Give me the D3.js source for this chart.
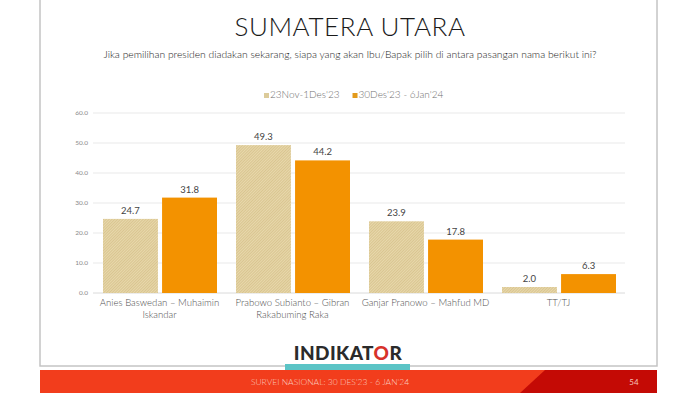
<!doctype html>
<html>
<head>
<meta charset="utf-8">
<script src="https://cdn.jsdelivr.net/npm/d3@7/dist/d3.min.js"></script>
<style>
  body { margin: 0; background: #fff; }
  svg { display: block; font-family: "Lato", "Open Sans", sans-serif; }
</style>
</head>
<body>
<svg width="700" height="393"></svg>
<script>
// data
var categories = ["Anies Baswedan \u2013 Muhaimin Iskandar", "Prabowo Subianto \u2013 Gibran Rakabuming Raka", "Ganjar Pranowo \u2013 Mahfud MD", "TT/TJ"];
var series = ["23Nov-1Des'23", "30Des'23 - 6Jan'24"];
var nov23 = [24.7, 49.3, 23.9, 2.0];
var jan24 = [31.8, 44.2, 17.8, 6.3];
var yTicks = [0, 10, 20, 30, 40, 50, 60];

var svg = d3.select("svg");

// fine textured fill for the first series
var defs = svg.append("defs");
var pat = defs.append("pattern")
    .attr("id", "hatch")
    .attr("width", 2).attr("height", 2)
    .attr("patternUnits", "userSpaceOnUse")
    .attr("patternTransform", "rotate(45)");
pat.append("rect").attr("width", 2).attr("height", 2).attr("fill", "#e8d8ac");
pat.append("rect").attr("width", 1).attr("height", 2).attr("fill", "#d9c590");

// slide frame
svg.append("rect")
   .attr("x", 40).attr("y", -2)
   .attr("width", 617).attr("height", 368)
   .attr("fill", "none")
   .attr("stroke", "#c4c4c4")
   .attr("stroke-width", 1.5);

svg.append("text")
   .attr("x", 350).attr("y", 36)
   .attr("text-anchor", "middle")
   .attr("font-size", "26px")
   .attr("font-weight", 300)
   .attr("letter-spacing", "0.6px")
   .attr("fill", "#1a1a1a")
   .text("SUMATERA UTARA");

svg.append("text")
   .attr("x", 350).attr("y", 58)
   .attr("text-anchor", "middle")
   .attr("font-size", "10.3px")
   .attr("font-weight", 300)
   .attr("fill", "#1a1a1a")
   .text("Jika pemilihan presiden diadakan sekarang, siapa yang akan Ibu/Bapak pilih di antara pasangan nama berikut ini?");

var colors = d3.scaleOrdinal().domain(series).range(["url(#hatch)", "#f39200"]);
var legendSwatch = ["#dccb9a", "#e39a1c"];

// legend
var leg = svg.append("g").attr("transform", "translate(264,98)");
var lx = 0;
series.forEach(function(s, i) {
    leg.append("rect")
       .attr("x", lx).attr("y", -5)
       .attr("width", 5).attr("height", 5)
       .attr("fill", legendSwatch[i]);
    var t = leg.append("text")
       .attr("x", lx + 6).attr("y", 0)
       .attr("font-size", "10px")
       .attr("font-weight", 300)
       .attr("fill", "#707070")
       .text(s);
    lx += 6 + t.node().getComputedTextLength() + 13;
});

var x0 = d3.scaleBand().domain(categories).range([93, 625]);
var x1 = d3.scaleBand().domain(series).range([10, 124]).paddingInner(0.07);
var y = d3.scaleLinear().domain([0, 60]).range([293, 113]);

// grid + y labels
svg.append("g")
   .selectAll("line")
   .data(yTicks)
   .enter().append("line")
   .attr("x1", 93).attr("x2", 625)
   .attr("y1", function(d) { return y(d); })
   .attr("y2", function(d) { return y(d); })
   .attr("stroke", function(d) { return d === 0 ? "#d0d0d0" : "#e3e3e3"; })
   .attr("stroke-width", 0.8);

svg.append("g")
   .selectAll("text")
   .data(yTicks)
   .enter().append("text")
   .attr("x", 88)
   .attr("y", function(d) { return y(d) + 2.3; })
   .attr("text-anchor", "end")
   .attr("font-size", "6.5px")
   .attr("fill", "#8a8a8a")
   .text(function(d) { return d3.format(".1f")(d); });

// bars
var rows = categories.map(function(c, i) {
    return { cat: c, vals: [{ s: series[0], v: nov23[i] }, { s: series[1], v: jan24[i] }] };
});

var grp = svg.append("g").selectAll("g")
   .data(rows)
   .enter().append("g")
   .attr("transform", function(d) { return "translate(" + x0(d.cat) + ",0)"; });

grp.selectAll("rect")
   .data(function(d) { return d.vals; })
   .enter().append("rect")
   .attr("x", function(d) { return x1(d.s); })
   .attr("y", function(d) { return y(d.v); })
   .attr("width", x1.bandwidth())
   .attr("height", function(d) { return y(0) - y(d.v); })
   .attr("fill", function(d) { return colors(d.s); });

grp.selectAll("text.val")
   .data(function(d) { return d.vals; })
   .enter().append("text")
   .attr("class", "val")
   .attr("x", function(d) { return x1(d.s) + x1.bandwidth() / 2; })
   .attr("y", function(d) { return y(d.v) - 5; })
   .attr("text-anchor", "middle")
   .attr("font-size", "9.5px")
   .attr("fill", "#444")
   .text(function(d) { return d3.format(".1f")(d.v); });

// category labels, wrapped to the band
grp.append("text")
   .attr("x", x0.bandwidth() / 2)
   .attr("y", 306)
   .attr("text-anchor", "middle")
   .attr("font-size", "9.6px")
   .attr("font-weight", 300)
   .attr("fill", "#505050")
   .each(function(d) {
       var el = d3.select(this), words = d.cat.split(" "), line = [];
       var ts = el.append("tspan").attr("x", x0.bandwidth() / 2).attr("dy", 0);
       words.forEach(function(w) {
           line.push(w);
           ts.text(line.join(" "));
           if (ts.node().getComputedTextLength() > 132 && line.length > 1) {
               line.pop();
               ts.text(line.join(" "));
               line = [w];
               ts = el.append("tspan").attr("x", x0.bandwidth() / 2).attr("dy", "1.25em").text(w);
           }
       });
   });

// logo
svg.append("rect")
   .attr("x", 285).attr("y", 364)
   .attr("width", 125).attr("height", 7)
   .attr("fill", "#5bc4c6");
var logo = svg.append("text")
   .attr("x", 348).attr("y", 360)
   .attr("text-anchor", "middle")
   .attr("font-size", "19px")
   .attr("font-weight", 900)
   .attr("fill", "#2b2b2b")
   .attr("letter-spacing", "0.4px");
logo.append("tspan").text("INDIKAT");
logo.append("tspan").attr("fill", "#d7322a").text("O");
logo.append("tspan").text("R");

// footer band
svg.append("rect")
   .attr("x", 40).attr("y", 370)
   .attr("width", 617).attr("height", 23)
   .attr("fill", "#f23d1c");
svg.append("path")
   .attr("d", "M545,370 L657,370 L657,393 L520,393 Z")
   .attr("fill", "#c40a05");
svg.append("text")
   .attr("x", 330).attr("y", 385)
   .attr("text-anchor", "middle")
   .attr("font-size", "8.5px")
   .attr("font-weight", 300)
   .attr("fill", "#f9c9bd")
   .text("SURVEI NASIONAL: 30 DES'23 - 6 JAN'24");
svg.append("text")
   .attr("x", 634).attr("y", 385)
   .attr("text-anchor", "middle")
   .attr("font-size", "8px")
   .attr("fill", "#f6c1b8")
   .text("54");
</script>
</body>
</html>
